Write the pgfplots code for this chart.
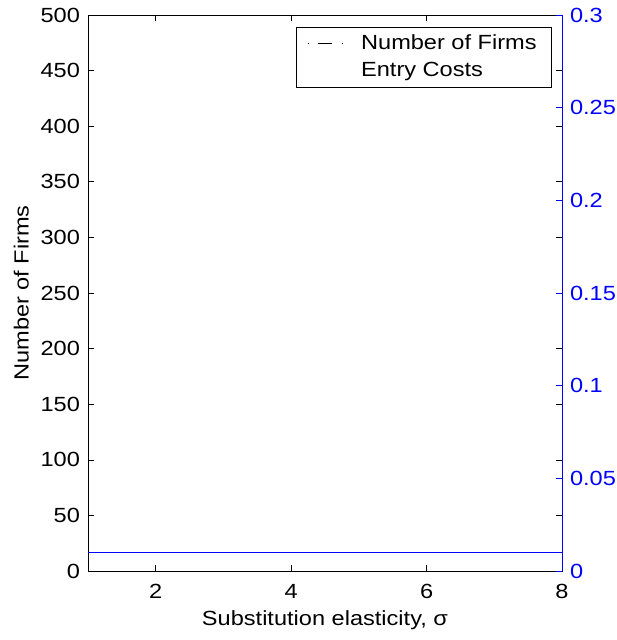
\documentclass[border=0pt]{standalone}
\usepackage{pgfplots}
\pgfplotsset{compat=1.18}
\usepackage{fontspec}
\setmainfont{Liberation Sans}[FakeStretch=1.15]
\newcommand{\fs}{\fontsize{20.5}{24}\selectfont}
\begin{document}
\fs
\begin{tikzpicture}
\useasboundingbox (-88pt,-69pt) rectangle (528pt,571pt);
\begin{axis}[
  at={(0pt,0pt)}, anchor=south west,
  scale only axis, width=474pt, height=556pt,
  xmin=1, xmax=8, ymin=0, ymax=500,
  xtick={2,4,6,8},
  ytick={0,50,...,500},
  tick align=inside,
  major tick length=6pt,
  xtick pos=both, ytick pos=both,
  tick style={black, line width=0.6pt},
  axis line style={black, line width=0.8pt},
  /pgf/number format/assume math mode=true,
  ticklabel style={font=\fs},
  xticklabel style={yshift=-6pt},
  yticklabel style={xshift=-1pt},
  label style={font=\fs},
  xlabel={Substitution elasticity, σ},
  ylabel={Number of Firms},
  xlabel style={yshift=2pt},
  ylabel style={yshift=-2pt},
  legend style={at={(0.979,0.978)}, anchor=north east, draw=black, line width=0.8pt,
    font=\fs, inner xsep=11pt, inner ysep=5pt, row sep=6pt,
    legend cell align=left,
    nodes={inner xsep=4pt},
    /tikz/every odd column/.append style={column sep=12pt}},
  legend image code/.code={\draw[#1] (0pt,0pt) -- (37pt,0pt);},
]
\addlegendimage{black, line width=0.6pt, dash pattern=on 1pt off 9pt on 14pt off 10pt on 1pt off 10pt}
\addlegendentry{Number of Firms}
\addlegendimage{white}
\addlegendentry{Entry Costs}
\end{axis}
\begin{axis}[
  at={(0pt,0pt)}, anchor=south west,
  scale only axis, width=474pt, height=556pt,
  xmin=1, xmax=8, ymin=0, ymax=0.3,
  axis x line=none,
  axis y line*=right,
  ytick={0,0.05,0.1,0.15,0.2,0.25,0.3},
  yticklabels={0,0.05,0.1,0.15,0.2,0.25,0.3},
  tick align=inside,
  major tick length=6pt,
  y axis line style={blue, line width=0.8pt},
  ytick style={blue, line width=0.6pt},
  yticklabel style={blue, font=\fs, xshift=1pt},
  /pgf/number format/assume math mode=true,
]
\addplot[blue, line width=0.6pt] coordinates {(1,0.01) (8,0.01)};
\end{axis}
\end{tikzpicture}
\end{document}
